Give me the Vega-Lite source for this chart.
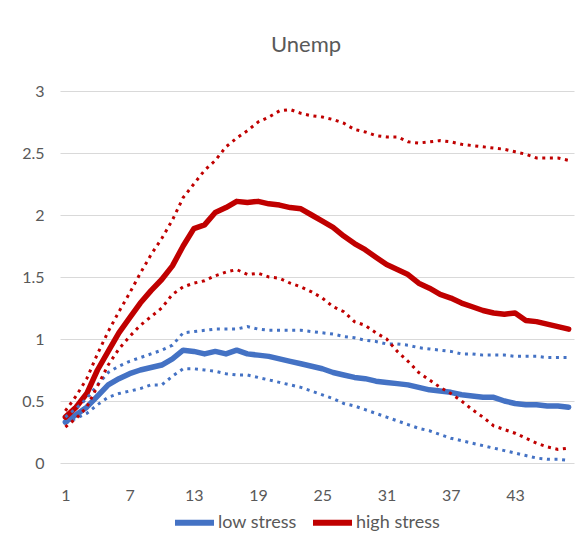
{
  "$schema": "https://vega.github.io/schema/vega-lite/v6.json",
  "width": 514,
  "height": 372,
  "autosize": {"type": "none"},
  "padding": {"left": 60, "top": 91, "right": 12, "bottom": 78},
  "background": "white",
  "title": {"text": "Unemp", "font": "Lato", "fontSize": 22, "fontWeight": "normal", "color": "#595959", "offset": 26, "dx": -11},
  "data": {"values": [
    {"t":1,"low stress":0.33,"low_hi":0.37,"low_lo":0.32,"high stress":0.37,"high_hi":0.42,"high_lo":0.29},
    {"t":2,"low stress":0.39,"low_hi":0.44,"low_lo":0.36,"high stress":0.45,"high_hi":0.54,"high_lo":0.36},
    {"t":3,"low stress":0.45,"low_hi":0.52,"low_lo":0.40,"high stress":0.56,"high_hi":0.68,"high_lo":0.45},
    {"t":4,"low stress":0.54,"low_hi":0.63,"low_lo":0.47,"high stress":0.75,"high_hi":0.88,"high_lo":0.62},
    {"t":5,"low stress":0.63,"low_hi":0.73,"low_lo":0.53,"high stress":0.90,"high_hi":1.06,"high_lo":0.79},
    {"t":6,"low stress":0.68,"low_hi":0.78,"low_lo":0.56,"high stress":1.05,"high_hi":1.22,"high_lo":0.92},
    {"t":7,"low stress":0.72,"low_hi":0.82,"low_lo":0.58,"high stress":1.17,"high_hi":1.37,"high_lo":1.02},
    {"t":8,"low stress":0.75,"low_hi":0.85,"low_lo":0.60,"high stress":1.29,"high_hi":1.53,"high_lo":1.11},
    {"t":9,"low stress":0.77,"low_hi":0.88,"low_lo":0.63,"high stress":1.39,"high_hi":1.68,"high_lo":1.18},
    {"t":10,"low stress":0.79,"low_hi":0.91,"low_lo":0.63,"high stress":1.48,"high_hi":1.81,"high_lo":1.25},
    {"t":11,"low stress":0.84,"low_hi":0.95,"low_lo":0.70,"high stress":1.59,"high_hi":1.96,"high_lo":1.36},
    {"t":12,"low stress":0.91,"low_hi":1.05,"low_lo":0.76,"high stress":1.75,"high_hi":2.14,"high_lo":1.42},
    {"t":13,"low stress":0.90,"low_hi":1.06,"low_lo":0.76,"high stress":1.89,"high_hi":2.25,"high_lo":1.45},
    {"t":14,"low stress":0.88,"low_hi":1.07,"low_lo":0.75,"high stress":1.92,"high_hi":2.36,"high_lo":1.47},
    {"t":15,"low stress":0.90,"low_hi":1.08,"low_lo":0.74,"high stress":2.02,"high_hi":2.44,"high_lo":1.51},
    {"t":16,"low stress":0.88,"low_hi":1.08,"low_lo":0.72,"high stress":2.06,"high_hi":2.55,"high_lo":1.54},
    {"t":17,"low stress":0.91,"low_hi":1.08,"low_lo":0.71,"high stress":2.11,"high_hi":2.62,"high_lo":1.56},
    {"t":18,"low stress":0.88,"low_hi":1.10,"low_lo":0.71,"high stress":2.10,"high_hi":2.68,"high_lo":1.52},
    {"t":19,"low stress":0.87,"low_hi":1.08,"low_lo":0.69,"high stress":2.11,"high_hi":2.75,"high_lo":1.53},
    {"t":20,"low stress":0.86,"low_hi":1.07,"low_lo":0.67,"high stress":2.09,"high_hi":2.79,"high_lo":1.50},
    {"t":21,"low stress":0.84,"low_hi":1.07,"low_lo":0.65,"high stress":2.08,"high_hi":2.84,"high_lo":1.49},
    {"t":22,"low stress":0.82,"low_hi":1.07,"low_lo":0.63,"high stress":2.06,"high_hi":2.85,"high_lo":1.45},
    {"t":23,"low stress":0.80,"low_hi":1.07,"low_lo":0.61,"high stress":2.05,"high_hi":2.82,"high_lo":1.42},
    {"t":24,"low stress":0.78,"low_hi":1.06,"low_lo":0.58,"high stress":2.00,"high_hi":2.80,"high_lo":1.38},
    {"t":25,"low stress":0.76,"low_hi":1.05,"low_lo":0.55,"high stress":1.95,"high_hi":2.79,"high_lo":1.33},
    {"t":26,"low stress":0.73,"low_hi":1.04,"low_lo":0.52,"high stress":1.90,"high_hi":2.77,"high_lo":1.26},
    {"t":27,"low stress":0.71,"low_hi":1.02,"low_lo":0.48,"high stress":1.83,"high_hi":2.74,"high_lo":1.22},
    {"t":28,"low stress":0.69,"low_hi":1.01,"low_lo":0.46,"high stress":1.77,"high_hi":2.69,"high_lo":1.14},
    {"t":29,"low stress":0.68,"low_hi":0.99,"low_lo":0.43,"high stress":1.72,"high_hi":2.67,"high_lo":1.11},
    {"t":30,"low stress":0.66,"low_hi":0.98,"low_lo":0.40,"high stress":1.66,"high_hi":2.64,"high_lo":1.05},
    {"t":31,"low stress":0.65,"low_hi":0.96,"low_lo":0.37,"high stress":1.60,"high_hi":2.63,"high_lo":1.00},
    {"t":32,"low stress":0.64,"low_hi":0.96,"low_lo":0.34,"high stress":1.56,"high_hi":2.63,"high_lo":0.90},
    {"t":33,"low stress":0.63,"low_hi":0.95,"low_lo":0.31,"high stress":1.52,"high_hi":2.59,"high_lo":0.82},
    {"t":34,"low stress":0.61,"low_hi":0.93,"low_lo":0.28,"high stress":1.45,"high_hi":2.58,"high_lo":0.73},
    {"t":35,"low stress":0.59,"low_hi":0.92,"low_lo":0.26,"high stress":1.41,"high_hi":2.59,"high_lo":0.67},
    {"t":36,"low stress":0.58,"low_hi":0.91,"low_lo":0.23,"high stress":1.36,"high_hi":2.60,"high_lo":0.61},
    {"t":37,"low stress":0.57,"low_hi":0.90,"low_lo":0.20,"high stress":1.33,"high_hi":2.59,"high_lo":0.56},
    {"t":38,"low stress":0.55,"low_hi":0.88,"low_lo":0.18,"high stress":1.29,"high_hi":2.57,"high_lo":0.50},
    {"t":39,"low stress":0.54,"low_hi":0.88,"low_lo":0.16,"high stress":1.26,"high_hi":2.56,"high_lo":0.43},
    {"t":40,"low stress":0.53,"low_hi":0.87,"low_lo":0.14,"high stress":1.23,"high_hi":2.55,"high_lo":0.37},
    {"t":41,"low stress":0.53,"low_hi":0.87,"low_lo":0.12,"high stress":1.21,"high_hi":2.54,"high_lo":0.30},
    {"t":42,"low stress":0.50,"low_hi":0.87,"low_lo":0.10,"high stress":1.20,"high_hi":2.53,"high_lo":0.27},
    {"t":43,"low stress":0.48,"low_hi":0.86,"low_lo":0.08,"high stress":1.21,"high_hi":2.51,"high_lo":0.24},
    {"t":44,"low stress":0.47,"low_hi":0.86,"low_lo":0.06,"high stress":1.15,"high_hi":2.49,"high_lo":0.20},
    {"t":45,"low stress":0.47,"low_hi":0.86,"low_lo":0.04,"high stress":1.14,"high_hi":2.46,"high_lo":0.16},
    {"t":46,"low stress":0.46,"low_hi":0.85,"low_lo":0.03,"high stress":1.12,"high_hi":2.46,"high_lo":0.13},
    {"t":47,"low stress":0.46,"low_hi":0.85,"low_lo":0.03,"high stress":1.10,"high_hi":2.46,"high_lo":0.11},
    {"t":48,"low stress":0.45,"low_hi":0.85,"low_lo":0.02,"high stress":1.08,"high_hi":2.44,"high_lo":0.12}
  ]},
  "encoding": {
    "x": {"field": "t", "type": "quantitative",
      "scale": {"domain": [0.5, 48.5], "nice": false, "zero": false},
      "axis": {"values": [1, 7, 13, 19, 25, 31, 37, 43], "grid": false, "ticks": false, "domain": false, "labelPadding": 24, "title": null}}
  },
  "layer": [
    {
      "transform": [{"fold": ["low stress", "high stress"], "as": ["series", "value"]}],
      "mark": {"type": "line", "strokeWidth": 5.5, "strokeCap": "round", "strokeJoin": "round"},
      "encoding": {
        "y": {"field": "value", "type": "quantitative", "title": null,
          "scale": {"domain": [0, 3], "nice": false},
          "axis": {"values": [0, 0.5, 1, 1.5, 2, 2.5, 3], "format": "~g", "grid": true, "gridColor": "#D9D9D9", "gridWidth": 1.2, "ticks": false, "domain": false, "labelPadding": 16, "title": null}},
        "color": {"field": "series", "type": "nominal",
          "scale": {"domain": ["low stress", "high stress"], "range": ["#4472C4", "#C00000"]},
          "legend": {"orient": "none", "legendX": 112, "legendY": 409, "direction": "horizontal", "title": null, "symbolType": "stroke", "symbolSize": 1521, "symbolStrokeWidth": 6, "labelFont": "Lato", "labelFontSize": 18, "labelColor": "#595959", "labelOffset": 1, "columnPadding": 4}}
      }
    },
    {
      "mark": {"type": "line", "color": "#4472C4", "strokeWidth": 3, "strokeDash": [3, 4.6]},
      "encoding": {"y": {"field": "low_hi", "type": "quantitative", "title": null,
          "axis": {"values": [0, 0.5, 1, 1.5, 2, 2.5, 3], "format": "~g", "grid": true, "gridColor": "#D9D9D9", "gridWidth": 1.2, "ticks": false, "domain": false, "labelPadding": 16, "title": null}}}
    },
    {
      "mark": {"type": "line", "color": "#4472C4", "strokeWidth": 3, "strokeDash": [3, 4.6]},
      "encoding": {"y": {"field": "low_lo", "type": "quantitative", "title": null,
          "axis": {"values": [0, 0.5, 1, 1.5, 2, 2.5, 3], "format": "~g", "grid": true, "gridColor": "#D9D9D9", "gridWidth": 1.2, "ticks": false, "domain": false, "labelPadding": 16, "title": null}}}
    },
    {
      "mark": {"type": "line", "color": "#C00000", "strokeWidth": 3, "strokeDash": [3, 4.6]},
      "encoding": {"y": {"field": "high_hi", "type": "quantitative", "title": null,
          "axis": {"values": [0, 0.5, 1, 1.5, 2, 2.5, 3], "format": "~g", "grid": true, "gridColor": "#D9D9D9", "gridWidth": 1.2, "ticks": false, "domain": false, "labelPadding": 16, "title": null}}}
    },
    {
      "mark": {"type": "line", "color": "#C00000", "strokeWidth": 3, "strokeDash": [3, 4.6]},
      "encoding": {"y": {"field": "high_lo", "type": "quantitative", "title": null,
          "axis": {"values": [0, 0.5, 1, 1.5, 2, 2.5, 3], "format": "~g", "grid": true, "gridColor": "#D9D9D9", "gridWidth": 1.2, "ticks": false, "domain": false, "labelPadding": 16, "title": null}}}
    }
  ],
  "config": {
    "view": {"stroke": null},
    "axis": {"labelFont": "Lato", "labelFontSize": 16, "labelColor": "#595959"}
  }
}
